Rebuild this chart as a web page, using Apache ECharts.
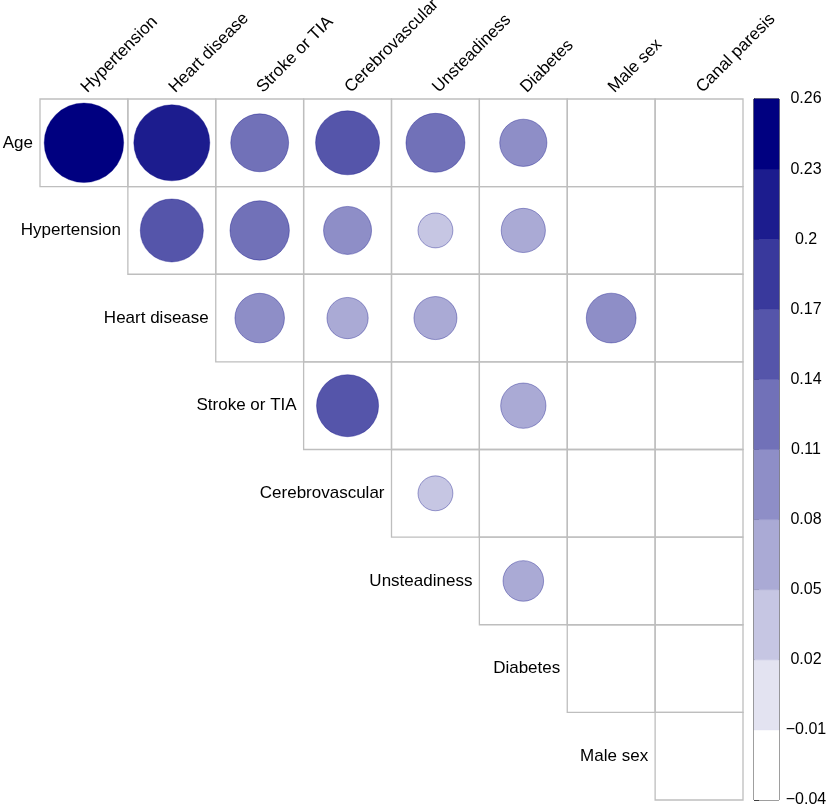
<!DOCTYPE html>
<html><head><meta charset="utf-8">
<script src="https://cdn.jsdelivr.net/npm/echarts@6/dist/echarts.min.js"></script>
<style>html,body{margin:0;padding:0;background:#fff}#c{width:829px;height:808px}</style>
</head><body><div id="c"></div>
<script>
const rowNames = ['Age','Hypertension','Heart disease','Stroke or TIA','Cerebrovascular','Unsteadiness','Diabetes','Male sex'];
const colNames = ['Hypertension','Heart disease','Stroke or TIA','Cerebrovascular','Unsteadiness','Diabetes','Male sex','Canal paresis'];
// values per row, starting at the diagonal column (null = blank cell)
const ageRow             = [0.25, 0.228, 0.13, 0.16, 0.135, 0.085, null, null];
const hypertensionRow    = [0.155, 0.137, 0.088, 0.045, 0.074, null, null];
const heartDiseaseRow    = [0.094, 0.064, 0.07, null, 0.095, null];
const strokeRow          = [0.15, null, 0.078, null, null];
const cerebrovascularRow = [0.045, null, null, null];
const unsteadinessRow    = [0.062, null, null];
const diabetesRow        = [null, null];
const maleSexRow         = [null];
const colorTicks = [-0.04,-0.01,0.02,0.05,0.08,0.11,0.14,0.17,0.2,0.23,0.26];
const palette = ['#FFFFFF','#E3E3F1','#C6C6E3','#AAAAD5','#8E8EC7','#7171B8','#5555AA','#39399C','#1C1C8E','#000080'];

const rows = [ageRow, hypertensionRow, heartDiseaseRow, strokeRow, cerebrovascularRow, unsteadinessRow, diabetesRow, maleSexRow];
const FONT = "'Liberation Sans', Arial, Helvetica, sans-serif";
const G = {left: 40, top: 99, width: 703, height: 701};
const cellW = G.width / colNames.length, cellH = G.height / rowNames.length;
const vmax = colorTicks[colorTicks.length - 1];

const cells = [], circles = [], labelPts = [];
rows.forEach((vals, r) => {
  labelPts.push([r, r]);
  vals.forEach((v, k) => {
    const c = r + k;
    cells.push([c, r]);
    if (v !== null) circles.push([c, r, v]);
  });
});
const pieces = palette.map((col, i) => ({gte: colorTicks[i], lt: colorTicks[i+1], color: col}));
pieces[pieces.length-1].lte = vmax; delete pieces[pieces.length-1].lt;
const barData = palette.map((col, i) => [colorTicks[i], colorTicks[i+1], i]);

const chart = echarts.init(document.getElementById('c'), null, {renderer: 'canvas'});
chart.setOption({
  backgroundColor: '#fff',
  animation: false,
  textStyle: {fontFamily: FONT},
  grid: [
    {left: G.left, top: G.top, width: G.width, height: G.height, containLabel: false, outerBoundsMode: 'none'},
    {left: 754, top: G.top, width: 25, height: G.height, show: true, borderColor: '#000', borderWidth: 1,
     backgroundColor: 'transparent', containLabel: false, outerBoundsMode: 'none'}
  ],
  xAxis: [
    {type: 'category', gridIndex: 0, data: colNames, position: 'top',
     axisLine: {show: false}, axisTick: {show: false}, splitLine: {show: false},
     axisLabel: {rotate: -45, fontSize: 17, color: '#000', margin: 9, interval: 0, fontFamily: FONT}},
    {type: 'value', gridIndex: 1, min: 0, max: 1, show: false}
  ],
  yAxis: [
    {type: 'category', gridIndex: 0, data: rowNames, inverse: true, show: false},
    {type: 'value', gridIndex: 1, min: colorTicks[0], max: vmax, interval: 0.03, position: 'right',
     axisLine: {show: true, lineStyle: {color: '#000', width: 1}},
     axisTick: {show: true, length: 5, lineStyle: {color: '#000'}},
     splitLine: {show: false},
     axisLabel: {color: '#000', fontSize: 16, margin: 27, align: 'center', fontFamily: FONT,
       formatter: v => { const r = Math.round(v * 100) / 100; return (r < 0 ? '\u2212' : '') + String(Math.abs(r)); }}}
  ],
  visualMap: {type: 'piecewise', show: false, seriesIndex: 1, dimension: 2, pieces: pieces},
  series: [
    {type: 'custom', xAxisIndex: 0, yAxisIndex: 0, data: cells, silent: true, z: 1,
     renderItem: (params, api) => {
       const p = api.coord([api.value(0), api.value(1)]);
       const s = api.size([1, 1]);
       return {type: 'rect', shape: {x: p[0] - s[0]/2, y: p[1] - s[1]/2, width: s[0], height: s[1]},
               style: {fill: 'none', stroke: '#BEBEBE', lineWidth: 1.3}};
     }},
    {type: 'scatter', xAxisIndex: 0, yAxisIndex: 0, data: circles, z: 3,
     symbol: 'circle',
     symbolSize: val => 0.9 * cellW * Math.sqrt(Math.max(val[2], 0) / vmax) + 2,
     itemStyle: {borderColor: 'rgba(0,0,128,0.35)', borderWidth: 1, opacity: 1}},
    {type: 'custom', xAxisIndex: 0, yAxisIndex: 0, data: labelPts, silent: true, z: 2,
     renderItem: (params, api) => {
       const p = api.coord([api.value(0), api.value(1)]);
       const s = api.size([1, 1]);
       return {type: 'text', x: p[0] - s[0]/2 - 7, y: p[1],
               style: {text: rowNames[params.dataIndex], fill: '#000', font: '17px ' + FONT,
                       textAlign: 'right', textVerticalAlign: 'middle'}};
     }},
    {type: 'custom', xAxisIndex: 1, yAxisIndex: 1, data: barData, silent: true, z: 1,
     renderItem: (params, api) => {
       const a = api.coord([0, api.value(0)]);
       const b = api.coord([1, api.value(1)]);
       return {type: 'rect', shape: {x: a[0], y: b[1], width: b[0] - a[0], height: a[1] - b[1]},
               style: {fill: palette[api.value(2)], stroke: palette[api.value(2)], lineWidth: 0.5}};
     }}
  ]
});
</script></body></html>
